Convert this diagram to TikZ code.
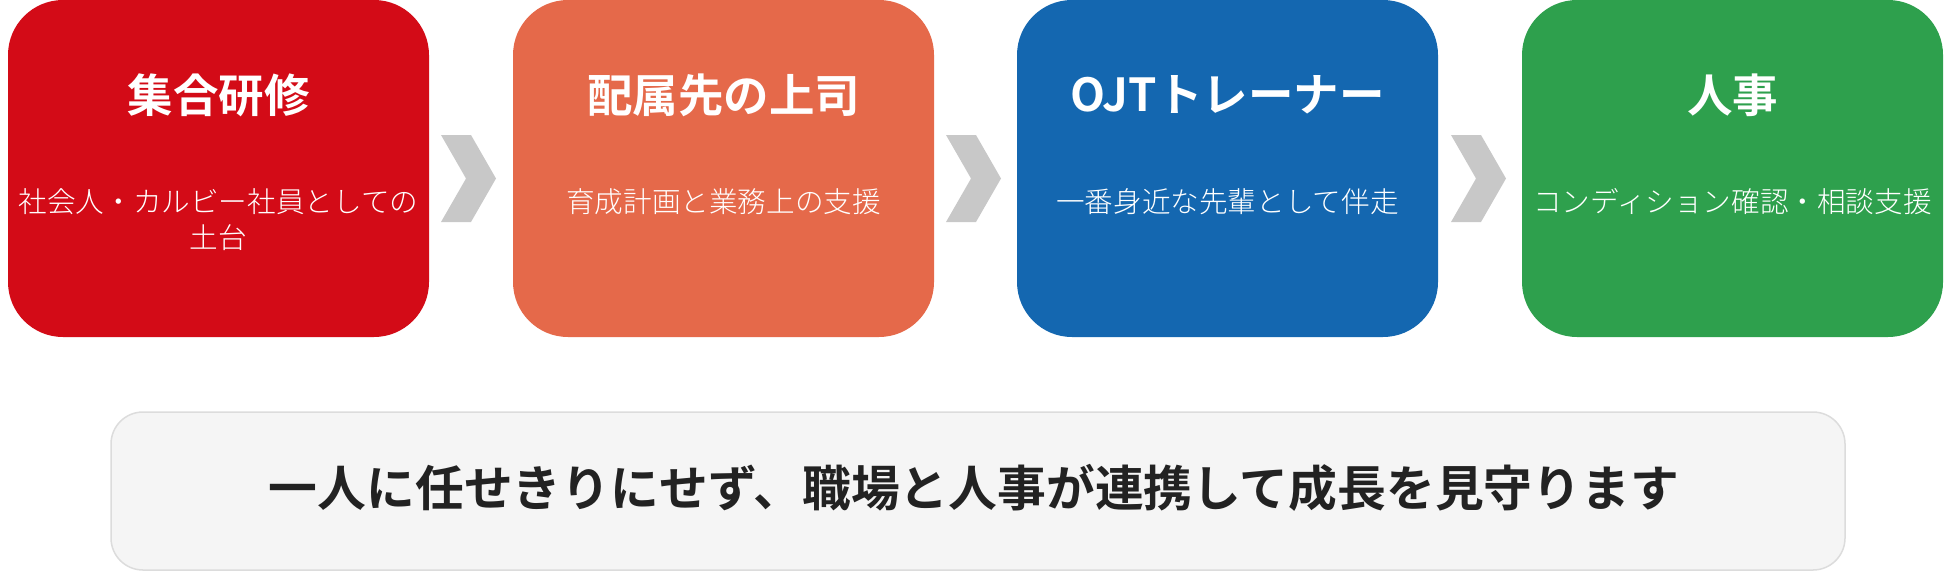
\documentclass[tikz,border=0pt]{standalone}
\usepackage{fontspec}
\setmainfont{Noto Sans CJK JP}[UprightFont=* Light, BoldFont=* Bold]
\newfontfamily\jpbold{Noto Sans CJK JP Bold}
\definecolor{cred}{HTML}{D30B17}
\definecolor{corange}{HTML}{E5694A}
\definecolor{cblue}{HTML}{1467B0}
\definecolor{cgreen}{HTML}{2EA04D}
\definecolor{cchev}{HTML}{C8C8C8}
\definecolor{cpanel}{HTML}{F5F5F5}
\definecolor{cpanelline}{HTML}{DCDCDC}
\definecolor{ctext}{HTML}{222222}
\tikzset{
  card/.style={rounded corners=55pt},
  cardtitle/.style={text=white, font=\jpbold\fontsize{45.5}{54}\selectfont, inner sep=0pt, anchor=center},
  cardsub/.style={text=white, font=\fontsize{28.6}{36}\selectfont, inner sep=0pt, align=center, anchor=center},
  chev/.style={fill=cchev, draw=none},
  panel/.style={fill=cpanel, draw=cpanelline, line width=1.5pt, rounded corners=32pt},
  paneltext/.style={text=ctext, font=\jpbold\fontsize{48.8}{58}\selectfont, inner sep=0pt, anchor=center}
}
\begin{document}
\begin{tikzpicture}[x=1pt,y=-1pt]
\useasboundingbox (0,0) rectangle (1950,571);
% cards
\fill[card, cred]    (8,0)    rectangle (429,337);
\fill[card, corange] (513,0)  rectangle (934,337);
\fill[card, cblue]   (1017,0) rectangle (1438,337);
\fill[card, cgreen]  (1522,0) rectangle (1943,337);
% titles
\node[cardtitle] (t1) at (218.5,95) {集合研修};
\node[cardtitle] (t2) at (723.5,95) {配属先の上司};
\node[cardtitle] (t3) at (1227.5,95) {OJTトレーナー};
\node[cardtitle] (t4) at (1732.5,95) {人事};
% subtitles
\node[cardsub] (s1) at (218.5,220) {社会人・カルビー社員としての\\土台};
\node[cardsub] (s2) at (723.5,202) {育成計画と業務上の支援};
\node[cardsub] (s3) at (1227.5,202) {一番身近な先輩として伴走};
\node[cardsub] (s4) at (1732.5,202) {コンディション確認・相談支援};
% chevrons
\foreach \dx in {0,505,1010}{
  \fill[chev] (441+\dx,135) -- (471+\dx,135) -- (496+\dx,178.5) -- (471+\dx,222) -- (441+\dx,222) -- (466+\dx,178.5) -- cycle;
}
% bottom panel
\draw[panel] (111,412) rectangle (1845,570);
\node[paneltext] (msg) at (974,488) {一人に任せきりにせず、職場と人事が連携して成長を見守ります};
\end{tikzpicture}
\end{document}
